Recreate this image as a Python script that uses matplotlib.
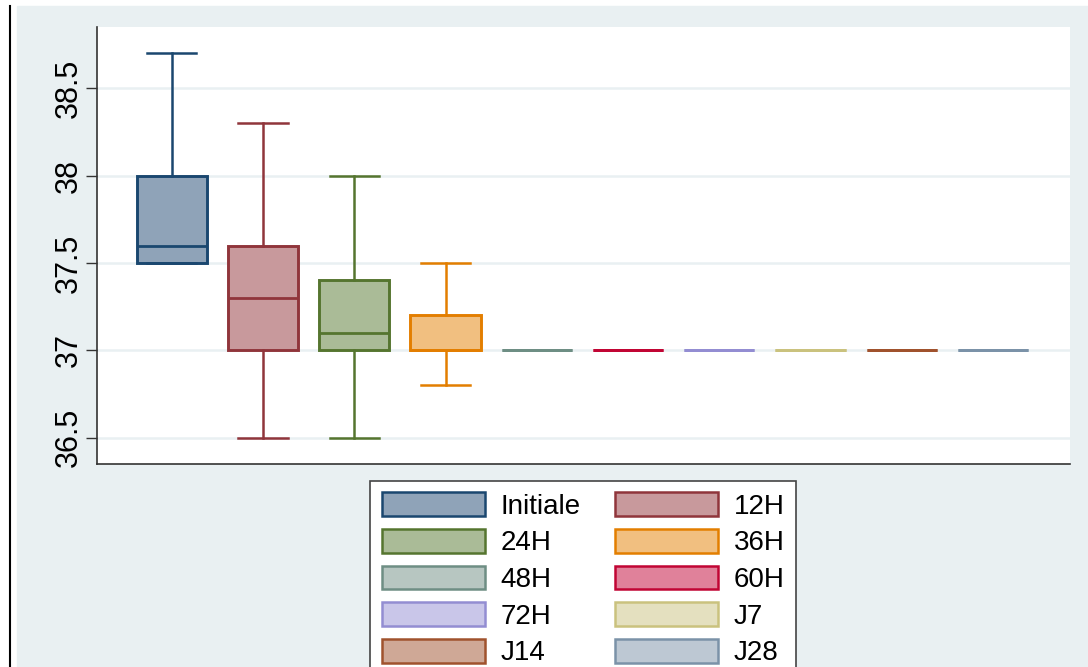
import numpy as np
import matplotlib
matplotlib.use('Agg')
import matplotlib.pyplot as plt
from matplotlib.patches import Rectangle, Patch
from matplotlib.lines import Line2D

plt.rcParams['font.family'] = ['Liberation Sans', 'DejaVu Sans']

# temperature summaries per time point (whisker low, q1, median, q3, whisker high)
groups = ['Initiale', '12H', '24H', '36H', '48H', '60H', '72H', 'J7', 'J14', 'J28']
wlo = [37.5, 36.5, 36.5, 36.8, 37.0, 37.0, 37.0, 37.0, 37.0, 37.0]
q1 = [37.5, 37.0, 37.0, 37.0, 37.0, 37.0, 37.0, 37.0, 37.0, 37.0]
med = [37.6, 37.3, 37.1, 37.0, 37.0, 37.0, 37.0, 37.0, 37.0, 37.0]
q3 = [38.0, 37.6, 37.4, 37.2, 37.0, 37.0, 37.0, 37.0, 37.0, 37.0]
whi = [38.7, 38.3, 38.0, 37.5, 37.0, 37.0, 37.0, 37.0, 37.0, 37.0]

edges = ['#1a476f', '#90353b', '#55752f', '#e37e00', '#6e8e84',
         '#c10534', '#938dd2', '#cac27e', '#a0522d', '#7b92a8']
fills = ['#8fa3b8', '#c8999c', '#aabb97', '#f1bf80', '#b7c6c1',
         '#e0819a', '#c9c6e9', '#e4e0bf', '#cfa896', '#bdc8d3']

yticks = [36.5, 37, 37.5, 38, 38.5]
yticklabels = ['36.5', '37', '37.5', '38', '38.5']

bg = '#e9f0f2'

fig = plt.figure(figsize=(10.88, 6.67), dpi=100)
fig.patch.set_facecolor('white')
fig.patches.append(Rectangle((17/1088, 0), 1 - 17/1088, 1 - 6/667,
                             transform=fig.transFigure, color=bg, zorder=-10))
fig.lines.append(Line2D([9.5/1088, 9.5/1088], [0, 1 - 6/667],
                        transform=fig.transFigure, color='black', lw=1.5))

ax = fig.add_axes([97/1088, 1 - 464/667, (1070-97)/1088, (464-27)/667])
ax.set_facecolor('white')

pos = np.arange(1, len(groups) + 1)
for i in range(len(groups)):
    st = [dict(whislo=wlo[i], q1=q1[i], med=med[i], q3=q3[i], whishi=whi[i], fliers=[])]
    c = edges[i]
    ax.bxp(st, positions=[pos[i]], widths=0.77, capwidths=0.54, patch_artist=True,
           showfliers=False,
           boxprops=dict(facecolor=fills[i], edgecolor=c, linewidth=2.1),
           medianprops=dict(color=c, linewidth=2.0),
           whiskerprops=dict(color=c, linewidth=1.8),
           capprops=dict(color=c, linewidth=1.8))

ax.set_xlim(0.18, 10.845)
ax.set_ylim(36.35, 38.85)
ax.set_yticks(yticks)
ax.set_yticklabels(yticklabels, rotation=90, va='center', fontsize=22)
ax.set_xticks([])
ax.tick_params(axis='y', length=8, width=1, color='#333333', pad=1.5)
ax.grid(axis='y', color=bg, linewidth=1.8)
ax.set_axisbelow(True)
for s in ['top', 'right']:
    ax.spines[s].set_visible(False)
for s in ['left', 'bottom']:
    ax.spines[s].set_color('#333333')
    ax.spines[s].set_linewidth(1.2)

# legend: two columns, row-wise order
handles = [Patch(facecolor=fills[i], edgecolor=edges[i], linewidth=1.8) for i in range(len(groups))]
order = [0, 2, 4, 6, 8, 1, 3, 5, 7, 9]
leg = fig.legend([handles[k] for k in order], [groups[k] for k in order],
                 ncol=2, loc='upper center', bbox_to_anchor=(583/1088, 1 - 481/667),
                 fontsize=20, handlelength=3.72, handleheight=0.95, handletextpad=0.55,
                 columnspacing=1.25, labelspacing=0.33, borderpad=0.4,
                 fancybox=False, framealpha=1, edgecolor='#444444', borderaxespad=0)
leg.get_frame().set_linewidth(1.2)

fig.savefig('out.png', dpi=100, facecolor=fig.get_facecolor())
